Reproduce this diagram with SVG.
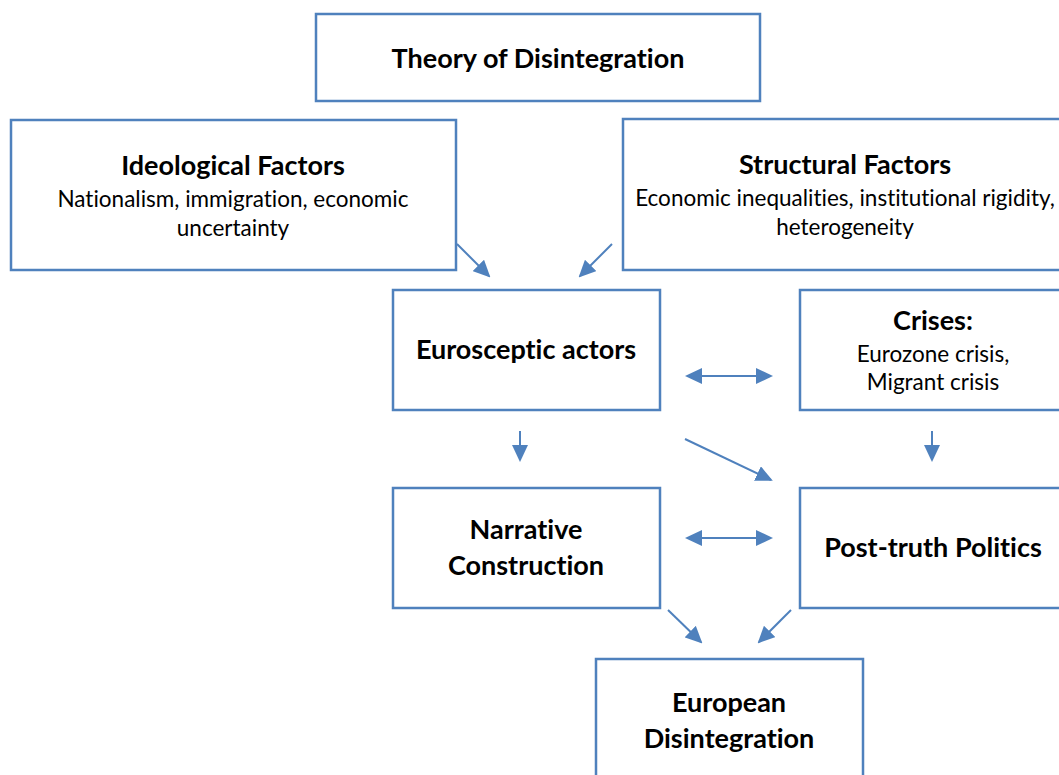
<svg xmlns="http://www.w3.org/2000/svg" width="1059" height="775" viewBox="0 0 1059 775">
<defs>
<style>
.box{fill:#ffffff;stroke:#4f81bd;stroke-width:2.5}
.t{font-family:Lato,"Open Sans","Liberation Sans",sans-serif;font-weight:bold;font-size:27px;fill:#000;text-anchor:middle;font-variant-ligatures:none}
.s{font-family:Lato,"Open Sans","Liberation Sans",sans-serif;font-size:22.5px;fill:#000;text-anchor:middle;font-variant-ligatures:none}
.c{fill:none;stroke:#4f81bd;stroke-width:2;marker-end:url(#ah)}
.d{marker-start:url(#ah)}
</style>
<marker id="ah" viewBox="0 0 17 16" markerWidth="17" markerHeight="16" refX="15" refY="8" orient="auto-start-reverse" markerUnits="userSpaceOnUse">
<path d="M0,0 L17,8 L0,16 z" fill="#4f81bd"/>
</marker>
</defs>
<rect width="1059" height="775" fill="#ffffff"/>
<g id="connectors">
<line class="c" x1="457" y1="244" x2="489" y2="276"/>
<line class="c" x1="612" y1="244" x2="580" y2="276"/>
<line class="c d" x1="687" y1="376" x2="771" y2="376"/>
<line class="c" x1="685" y1="439" x2="771" y2="480"/>
<line class="c" x1="520" y1="431" x2="520" y2="460"/>
<line class="c" x1="932" y1="431" x2="932" y2="460"/>
<line class="c d" x1="687" y1="538" x2="771" y2="538"/>
<line class="c" x1="668" y1="610" x2="701" y2="642"/>
<line class="c" x1="791" y1="610" x2="759" y2="642"/>
</g>
<g id="theory">
<rect class="box" x="316" y="14" width="444" height="87"/>
<text class="t" x="538" y="68">Theory of Disintegration</text>
</g>
<g id="ideological">
<rect class="box" x="11" y="120" width="445" height="150"/>
<text class="t" x="233" y="175">Ideological Factors</text>
<text class="s" x="233" y="207">Nationalism, immigration, economic</text>
<text class="s" x="233" y="236">uncertainty</text>
</g>
<g id="structural">
<rect class="box" x="623" y="119" width="445" height="151"/>
<text class="t" x="845" y="174">Structural Factors</text>
<text class="s" x="845" y="206">Economic inequalities, institutional rigidity,</text>
<text class="s" x="845" y="235">heterogeneity</text>
</g>
<g id="eurosceptic">
<rect class="box" x="393" y="290" width="267" height="120"/>
<text class="t" x="526" y="359">Eurosceptic actors</text>
</g>
<g id="crises">
<rect class="box" x="800" y="290" width="267" height="120"/>
<text class="t" x="933" y="330">Crises:</text>
<text class="s" x="933" y="362">Eurozone crisis,</text>
<text class="s" x="933" y="390">Migrant crisis</text>
</g>
<g id="narrative">
<rect class="box" x="393" y="488" width="267" height="120"/>
<text class="t" x="526" y="539">Narrative</text>
<text class="t" x="526" y="575">Construction</text>
</g>
<g id="posttruth">
<rect class="box" x="800" y="488" width="267" height="120"/>
<text class="t" x="933" y="557">Post-truth Politics</text>
</g>
<g id="european">
<rect class="box" x="596" y="659" width="267" height="130"/>
<text class="t" x="729" y="712">European</text>
<text class="t" x="729" y="748">Disintegration</text>
</g>
</svg>
